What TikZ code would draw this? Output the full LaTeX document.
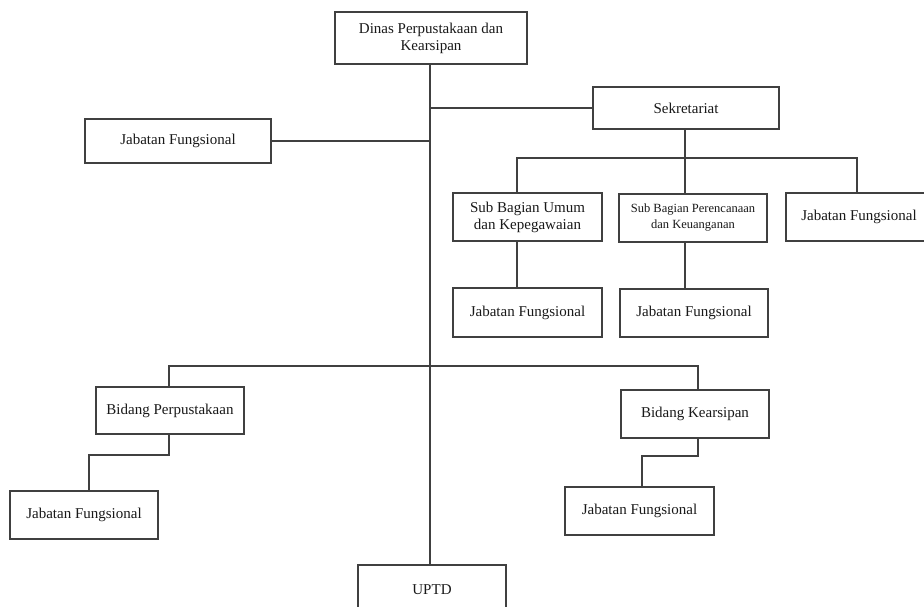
\documentclass[tikz,border=0pt]{standalone}
\usepackage{fontspec}
\setmainfont{Liberation Serif}
\usepackage{tikz}

\tikzset{
    kotak/.style={draw=black!75, line width=1.4pt, fill=white, inner sep=0pt,
        align=center, font=\fontsize{15}{17}\selectfont, text=black!90},
    garis/.style={draw=black!75, line width=1.4pt}
}

\begin{document}
\begin{tikzpicture}[x=1pt,y=-1pt]
        \useasboundingbox (0,0) rectangle (924,607);
        \clip (0,0) rectangle (924,607);

        % kotak
        \node[kotak, minimum width=192pt, minimum height=52pt] (dinas) at (431,38) {Dinas Perpustakaan dan\\Kearsipan};
        \node[kotak, minimum width=186pt, minimum height=42pt] (sekre) at (686,108) {Sekretariat};
        \node[kotak, minimum width=186pt, minimum height=44pt] (jfkiri) at (178,141) {Jabatan Fungsional};
        \node[kotak, minimum width=149pt, minimum height=48pt] (subumum) at (527.5,217) {Sub Bagian Umum\\dan Kepegawaian};
        \node[kotak, minimum width=148pt, minimum height=48pt, font=\fontsize{12.5}{16}\selectfont] (subren) at (693,218) {Sub Bagian Perencanaan\\dan Keuanganan};
        \node[kotak, minimum width=146pt, minimum height=48pt] (jfkanan) at (859,217) {Jabatan Fungsional};
        \node[kotak, minimum width=149pt, minimum height=49pt] (jfumum) at (527.5,312.5) {Jabatan Fungsional};
        \node[kotak, minimum width=148pt, minimum height=48pt] (jfren) at (694,313) {Jabatan Fungsional};
        \node[kotak, minimum width=148pt, minimum height=47pt] (bidperp) at (170,410.5) {Bidang Perpustakaan};
        \node[kotak, minimum width=148pt, minimum height=48pt] (bidkear) at (695,414) {Bidang Kearsipan};
        \node[kotak, minimum width=148pt, minimum height=48pt] (jfperp) at (84,515) {Jabatan Fungsional};
        \node[kotak, minimum width=149pt, minimum height=48pt] (jfkear) at (639.5,511) {Jabatan Fungsional};
        \node[kotak, minimum width=148pt, minimum height=50pt] (uptd) at (432,590) {UPTD};

        % titik bantu
        \coordinate (batang) at (430,0);
        \coordinate (kolumum) at (517,0);
        \coordinate (kolren) at (685,0);
        \coordinate (kolkanan) at (857,0);
        \coordinate (bar1) at (0,158);
        \coordinate (bar2) at (0,366);
        \coordinate (belokperp) at (169,455);
        \coordinate (belokkear) at (698,456);

        % garis
        \draw[garis] (batang |- dinas.south) -- (batang |- uptd.north);
        \draw[garis] (batang |- sekre.west) -- (sekre.west);
        \draw[garis] (jfkiri.east) -- (batang |- jfkiri.east);
        \draw[garis] (kolren |- sekre.south) -- (kolren |- subren.north);
        \draw[garis] (kolumum |- subumum.north) -- (kolumum |- bar1) -- (kolkanan |- bar1) -- (kolkanan |- jfkanan.north);
        \draw[garis] (kolumum |- subumum.south) -- (kolumum |- jfumum.north);
        \draw[garis] (kolren |- subren.south) -- (kolren |- jfren.north);
        \draw[garis] (belokperp |- bidperp.north) -- (belokperp |- bar2) -- (belokkear |- bar2) -- (belokkear |- bidkear.north);
        \draw[garis] (belokperp |- bidperp.south) -- (belokperp) -- (89,455) coordinate (turunperp) -- (turunperp |- jfperp.north);
        \draw[garis] (belokkear |- bidkear.south) -- (belokkear) -- (642,456) coordinate (turunkear) -- (turunkear |- jfkear.north);
    \end{tikzpicture}
\end{document}
